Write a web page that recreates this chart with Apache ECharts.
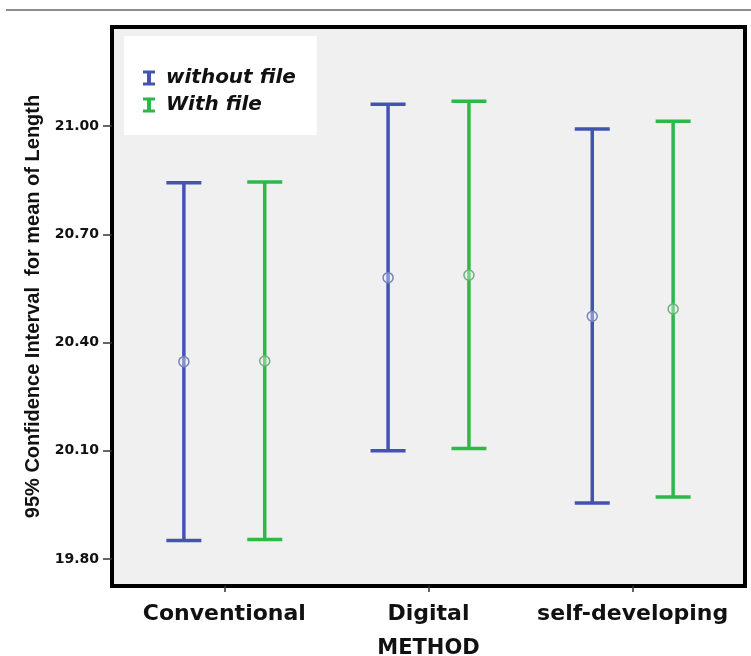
<!DOCTYPE html>
<html>
<head>
<meta charset="utf-8">
<script src="https://cdn.jsdelivr.net/npm/echarts@6/dist/echarts.min.js"></script>
<style>
  html, body { margin: 0; padding: 0; background: #fff; }
  #main { width: 751px; height: 656px; }
</style>
</head>
<body>
<div id="main"></div>
<script>
// categories on the x axis
const methods = ['Conventional', 'Digital', 'self-developing'];
const yTicks = [19.8, 20.1, 20.4, 20.7, 21.0];

// 95% CI for mean of Length: [low, mean, high]
const withoutFileLow = [19.851, 20.100, 19.955];
const withoutFileMean = [20.347, 20.580, 20.473];
const withoutFileHigh = [20.843, 21.061, 20.992];

const withFileLow = [19.854, 20.106, 19.972];
const withFileMean = [20.349, 20.587, 20.493];
const withFileHigh = [20.845, 21.069, 21.014];

const BLUE = '#4254b0';
const GREEN = '#2fb84a';

function rows(low, mean, high) {
  return methods.map((m, i) => [i, low[i], mean[i], high[i]]);
}

function errorBar(color, circleColor, shift) {
  return function (params, api) {
    const unit = api.size([1, 0])[0];
    const x = api.coord([api.value(0), 0])[0] + shift * unit;
    const yLow = api.coord([0, api.value(1)])[1];
    const yMean = api.coord([0, api.value(2)])[1];
    const yHigh = api.coord([0, api.value(3)])[1];
    const half = 17.5;
    const line = { stroke: color, lineWidth: 3.5 };
    return {
      type: 'group',
      children: [
        { type: 'line', shape: { x1: x, y1: yHigh, x2: x, y2: yLow }, style: line },
        { type: 'line', shape: { x1: x - half, y1: yHigh, x2: x + half, y2: yHigh }, style: line },
        { type: 'line', shape: { x1: x - half, y1: yLow, x2: x + half, y2: yLow }, style: line },
        { type: 'circle', shape: { cx: x, cy: yMean, r: 5 },
          style: { fill: 'rgba(240,240,240,0.4)', stroke: circleColor, lineWidth: 1.5 } }
      ]
    };
  };
}

const iBeam = 'path://M0,0 L12,0 L12,3 L8,3 L8,12 L12,12 L12,15 L0,15 L0,12 L4,12 L4,3 L0,3 Z';

const chart = echarts.init(document.getElementById('main'));
chart.setOption({
  animation: false,
  backgroundColor: '#fff',
  textStyle: { fontFamily: 'DejaVu Sans' },
  graphic: [
    { type: 'line', shape: { x1: 6, y1: 10, x2: 751, y2: 10 },
      style: { stroke: '#8c8c8c', lineWidth: 2 } }
  ],
  grid: {
    left: 112, right: 6, top: 27, bottom: 70,
    outerBoundsMode: 'none',
    containLabel: false,
    show: true, backgroundColor: '#f0f0f0', borderColor: '#000', borderWidth: 4
  },
  legend: {
    left: 124, top: 36,
    orient: 'vertical',
    backgroundColor: '#fff',
    padding: [30, 21, 18, 19],
    itemGap: 3,
    itemWidth: 12, itemHeight: 15,
    textStyle: {
      fontFamily: 'DejaVu Sans', fontSize: 20, fontWeight: 'bold', fontStyle: 'italic',
      color: '#111', lineHeight: 24, padding: [0, 0, 0, 6]
    },
    data: [
      { name: 'without file', icon: iBeam, itemStyle: { color: BLUE } },
      { name: 'With file', icon: iBeam, itemStyle: { color: GREEN } }
    ]
  },
  xAxis: {
    type: 'value',
    min: -0.55, max: 2.55,
    name: 'METHOD',
    nameLocation: 'middle',
    nameGap: 52,
    nameTextStyle: { fontFamily: 'DejaVu Sans', fontSize: 21, fontWeight: 'bold', color: '#111' },
    splitLine: { show: false },
    axisLine: { show: false, onZero: false },
    axisTick: { show: true, customValues: [0, 1, 2], length: 6, lineStyle: { color: '#333', width: 1.5 } },
    axisLabel: {
      customValues: [0, 1, 2],
      formatter: v => methods[Math.round(v)],
      margin: 17,
      fontFamily: 'DejaVu Sans', fontSize: 22, fontWeight: 'bold', color: '#111'
    }
  },
  yAxis: {
    type: 'value',
    min: 19.725, max: 21.275,
    name: '95% Confidence Interval  for mean of Length',
    nameLocation: 'middle',
    nameGap: 67,
    nameTextStyle: { fontFamily: 'Liberation Sans', fontSize: 20, fontWeight: 'bold', color: '#111' },
    splitLine: { show: false },
    axisLine: { show: false, onZero: false },
    axisTick: { show: true, customValues: yTicks, length: 9, lineStyle: { color: '#333', width: 1.5 } },
    axisLabel: {
      customValues: yTicks,
      formatter: v => v.toFixed(2),
      margin: 13,
      fontFamily: 'DejaVu Sans', fontSize: 14, fontWeight: 'bold', color: '#111'
    }
  },
  series: [
    {
      name: 'without file',
      type: 'custom',
      itemStyle: { color: BLUE },
      renderItem: errorBar(BLUE, '#7482c4', -0.198),
      encode: { x: 0, y: [1, 2, 3] },
      data: rows(withoutFileLow, withoutFileMean, withoutFileHigh)
    },
    {
      name: 'With file',
      type: 'custom',
      itemStyle: { color: GREEN },
      renderItem: errorBar(GREEN, '#6fae7e', 0.198),
      encode: { x: 0, y: [1, 2, 3] },
      data: rows(withFileLow, withFileMean, withFileHigh)
    }
  ]
});
</script>
</body>
</html>
